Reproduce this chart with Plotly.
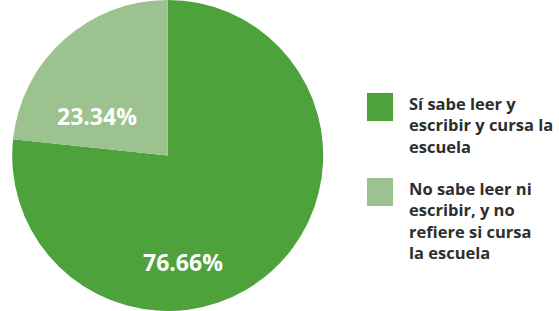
import plotly.graph_objects as go

labels = ["Sí sabe leer y<br>escribir y cursa la<br>escuela",
          "No sabe leer ni<br>escribir, y no<br>refiere si cursa<br>la escuela"]
values = [76.66, 23.34]
colors = ["#4ea23c", "#9cc28f"]

W, H = 559, 311

fig = go.Figure(go.Pie(
    labels=labels, values=values, sort=False, direction="clockwise", rotation=0,
    marker=dict(colors=colors, line=dict(width=0)),
    textinfo="none",
    domain=dict(x=[0.0, 0.6], y=[0.0, 1.0]), showlegend=False, hoverinfo="label+percent",
))

# percentage labels placed as in the reference (x, y centre in px)
label_pos = [(183, 262), (97, 116)]
for v, (px, py) in zip(values, label_pos):
    fig.add_annotation(xref="paper", yref="paper", x=px / W, y=1 - py / H,
                       xanchor="center", yanchor="middle", showarrow=False,
                       text=f"{v:.2f}%",
                       font=dict(family="Open Sans", size=23, color="white", weight="bold"))

# custom legend: (item index, square top px, text top px)
legend_items = [(0, 93, 90), (1, 178, 175)]
for idx, sq_top, txt_top in legend_items:
    fig.add_shape(type="rect", xref="paper", yref="paper",
                  x0=367 / W, x1=393 / W, y0=1 - (sq_top + 28) / H, y1=1 - sq_top / H,
                  fillcolor=colors[idx], line=dict(width=0))
    fig.add_annotation(xref="paper", yref="paper", x=407 / W, y=1 - txt_top / H,
                       xanchor="left", yanchor="top", align="left", showarrow=False,
                       text=labels[idx],
                       font=dict(family="Open Sans", size=16.5, color="#2e2e2e", weight="bold"))

fig.update_layout(width=W, height=H, margin=dict(l=0, r=0, t=0, b=0),
                  paper_bgcolor="white", plot_bgcolor="white")
fig.write_html("out.html", config={"displayModeBar": False},
               post_script="document.body.style.margin='0';document.body.style.overflow='hidden';")
